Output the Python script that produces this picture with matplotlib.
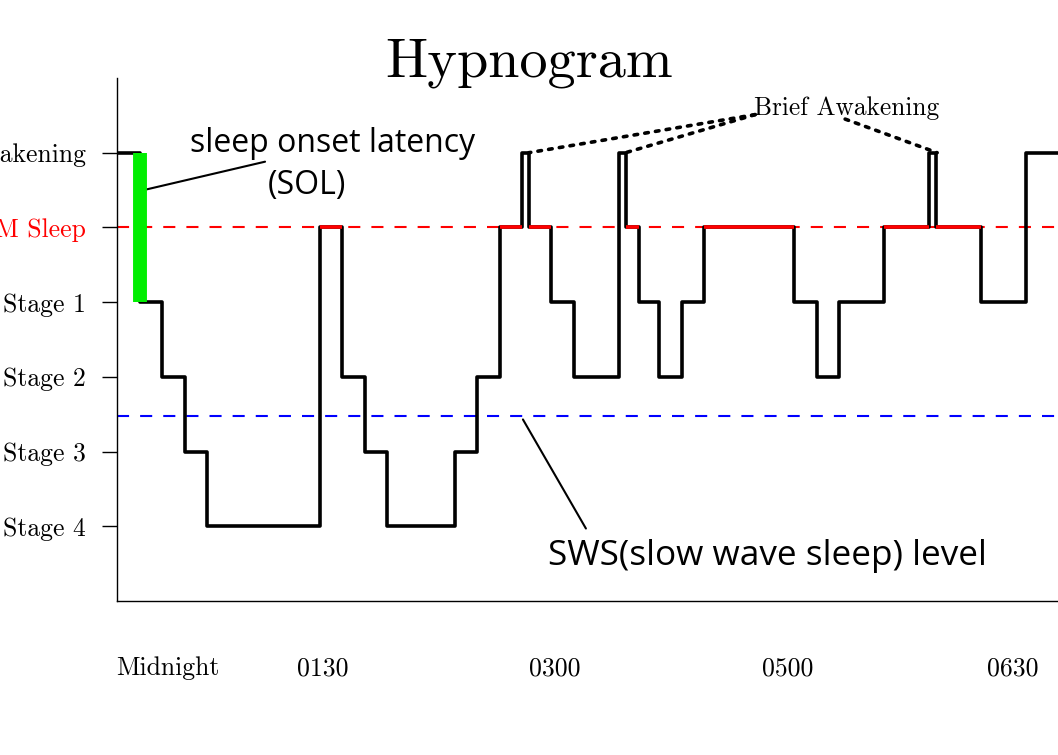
import matplotlib
matplotlib.use('Agg')
import matplotlib.pyplot as plt

# sleep stage levels (y positions)
stage_names = ['Stage 4', 'Stage 3', 'Stage 2', 'Stage 1', 'REM Sleep', 'Awakening']
stage_levels = [1, 2, 3, 4, 5, 6]

# hypnogram: start of each epoch and stage level during it
times = [0, 1, 2, 3, 4, 9, 10, 11, 12, 15, 16, 17, 18, 18.3, 19.3, 20.3,
         22.3, 22.6, 23.2, 24.1, 25.1, 26.1, 30.1, 31.1, 32.1, 34.1, 36.1,
         36.4, 38.4, 40.4, 43]
stages = [6, 4, 3, 2, 1, 5, 3, 2, 1, 2, 3, 5, 6, 5, 4, 3,
          6, 5, 4, 3, 4, 5, 4, 3, 4, 5, 6,
          5, 4, 6, 6]

# time labels under the axis
tick_pos = [2.27, 9.16, 19.47, 29.82, 39.82]
tick_labels = ['Midnight', '0130', '0300', '0500', '0630']

rem_level = 5
sws_level = 2.48
sol_time = 1.0

serif = ['cmr10', 'DejaVu Serif']
sans = ['Open Sans', 'DejaVu Sans']

fig = plt.figure(figsize=(10.58, 7.55), dpi=100)
ax = fig.add_axes([117 / 1058, 154 / 755, 1 - 117 / 1058, 523 / 755])

ax.axhline(rem_level, color='red', lw=1.5, linestyle=(0, (5.8, 5.3)), zorder=1)
ax.axhline(sws_level, color='blue', lw=1.5, linestyle=(0, (5.8, 5.3)), zorder=1)

ax.step(times, stages, where='post', color='black', lw=2.6, zorder=3)

# REM periods in red
for i in range(len(times) - 1):
    if stages[i] == rem_level:
        ax.plot([times[i], times[i + 1]], [rem_level, rem_level],
                color='red', lw=2.6, solid_capstyle='butt', zorder=4)

# sleep onset latency bar
ax.plot([sol_time, sol_time], [stages[1], stages[0]], color='#00ee00',
        lw=10, solid_capstyle='butt', zorder=5)

ax.set_xlim(0, 41.82)
ax.set_ylim(0, 7)
ax.set_yticks(stage_levels)
ax.set_yticklabels(stage_names, family=serif, fontsize=18.5)
ax.get_yticklabels()[4].set_color('red')
ax.set_xticks(tick_pos)
ax.set_xticklabels(tick_labels, family=serif, fontsize=18.5)
ax.tick_params(axis='y', length=10.5, width=1, pad=12)
ax.tick_params(axis='x', length=0, pad=40)
for s in ['top', 'right']:
    ax.spines[s].set_visible(False)
ax.spines['left'].set_linewidth(1)
ax.spines['bottom'].set_linewidth(1)

fig.text(0.5, 0.899, 'Hypnogram', family=serif, fontsize=40.5,
         ha='center', va='baseline')

# annotations
ax.text(3.24, 6.01, 'sleep onset latency', family=sans, fontsize=23,
        ha='left', va='baseline')
ax.text(6.71, 5.45, '(SOL)', family=sans, fontsize=23, ha='left', va='baseline')
ax.annotate('', xy=(1.33, 5.51), xytext=(6.58, 5.88),
            arrowprops=dict(arrowstyle='-', lw=1.5, color='black',
                            shrinkA=0, shrinkB=0))

ax.text(19.16, 0.48, 'SWS(slow wave sleep) level', family=sans, fontsize=25.3,
        ha='left', va='baseline')
ax.annotate('', xy=(18.04, 2.43), xytext=(20.84, 0.97),
            arrowprops=dict(arrowstyle='-', lw=1.5, color='black',
                            shrinkA=0, shrinkB=0))

ax.text(28.3, 6.51, 'Brief Awakening', family=serif, fontsize=18.3,
        ha='left', va='baseline', clip_on=False)
for (x0, y0), x1 in [((28.36, 6.51), 18.3), ((28.36, 6.51), 22.6), ((32.36, 6.45), 36.45)]:
    ax.annotate('', xy=(x1, 6), xytext=(x0, y0),
                arrowprops=dict(arrowstyle='-', lw=2.6, color='black',
                                linestyle=(0, (1, 2)), shrinkA=0, shrinkB=0))

fig.savefig('out.png', dpi=100)
